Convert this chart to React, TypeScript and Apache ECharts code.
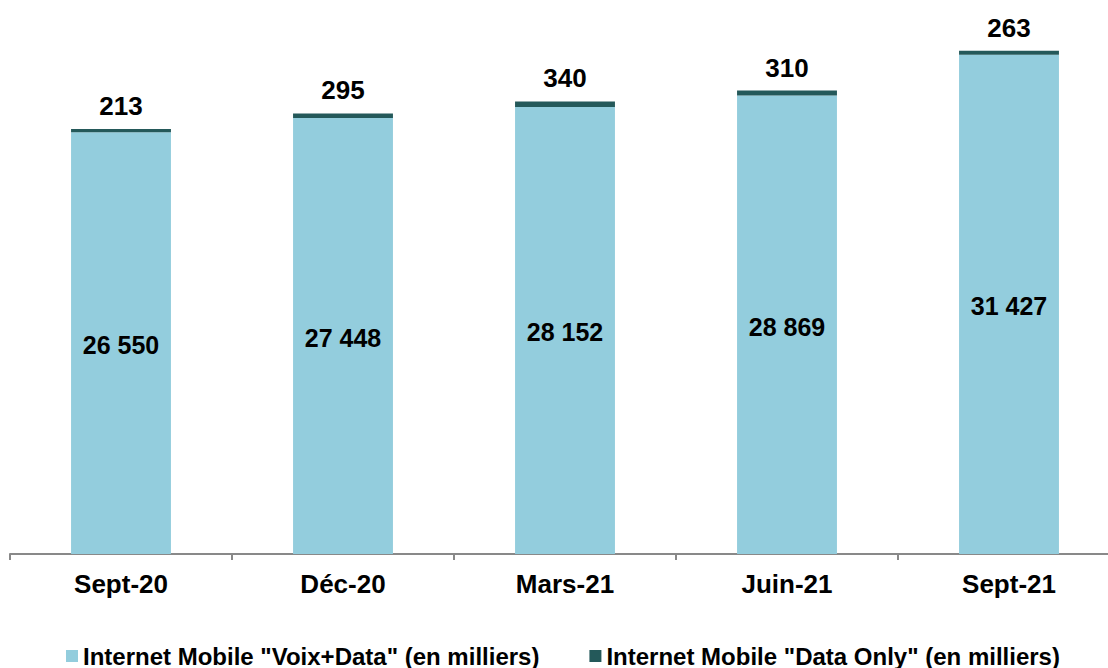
import React, { useEffect, useRef } from "react";
import * as echarts from "echarts";

const categories = ["Sept-20", "Déc-20", "Mars-21", "Juin-21", "Sept-21"];
const voixData = [26550, 27448, 28152, 28869, 31427];
const dataOnly = [213, 295, 340, 310, 263];
const seriesNames = [
  'Internet Mobile "Voix+Data" (en milliers)',
  'Internet Mobile "Data Only" (en milliers)',
];

const fmt = (v: number) => String(v).replace(/\B(?=(\d{3})+(?!\d))/g, " ");

export default function App() {
  const ref = useRef<HTMLDivElement>(null);
  useEffect(() => {
    if (!ref.current) return;
    const chart = echarts.init(ref.current, null, { renderer: "svg" });
    const font = "Liberation Sans, Arial, sans-serif";
    chart.setOption({
      animation: false,
      textStyle: { fontFamily: font },
      grid: { left: 10, right: 0, top: 14, bottom: 114, containLabel: false },
      legend: {
        top: 642,
        left: 66,
        padding: 0,
        itemWidth: 12,
        itemHeight: 12,
        itemGap: 50,
        icon: "rect",
        textStyle: {
          fontSize: 24,
          fontWeight: "bold",
          color: "#000",
          fontFamily: font,
          lineHeight: 28,
        },
        data: seriesNames,
      },
      xAxis: {
        type: "category",
        data: categories,
        axisLine: { lineStyle: { color: "#898989", width: 2 } },
        axisTick: { show: true, length: 6, lineStyle: { color: "#898989", width: 2 } },
        axisLabel: { fontSize: 26, fontWeight: "bold", color: "#000", margin: 17, fontFamily: font },
      },
      yAxis: {
        type: "value",
        min: 0,
        max: 34000,
        show: false,
        splitLine: { show: false },
      },
      series: [
        {
          name: seriesNames[0],
          type: "bar",
          stack: "total",
          barWidth: "45%",
          data: voixData,
          itemStyle: { color: "#93CDDD" },
          label: {
            show: true,
            position: "inside",
            offset: [0, 2],
            fontSize: 25,
            fontWeight: "bold",
            color: "#000",
            fontFamily: font,
            formatter: (p: any) => fmt(p.value),
          },
        },
        {
          name: seriesNames[1],
          type: "bar",
          stack: "total",
          barWidth: "45%",
          data: dataOnly,
          itemStyle: { color: "#24595A" },
          label: {
            show: true,
            position: "top",
            distance: 10,
            fontSize: 26,
            fontWeight: "bold",
            color: "#000",
            fontFamily: font,
            formatter: (p: any) => fmt(p.value),
          },
        },
      ],
    });
    return () => chart.dispose();
  }, []);
  return (
    <div
      style={{
        position: "absolute",
        left: 0,
        top: 0,
        width: 1108,
        height: 668,
        overflow: "hidden",
      }}
    >
      <div ref={ref} style={{ width: 1120, height: 668 }} />
    </div>
  );
}
